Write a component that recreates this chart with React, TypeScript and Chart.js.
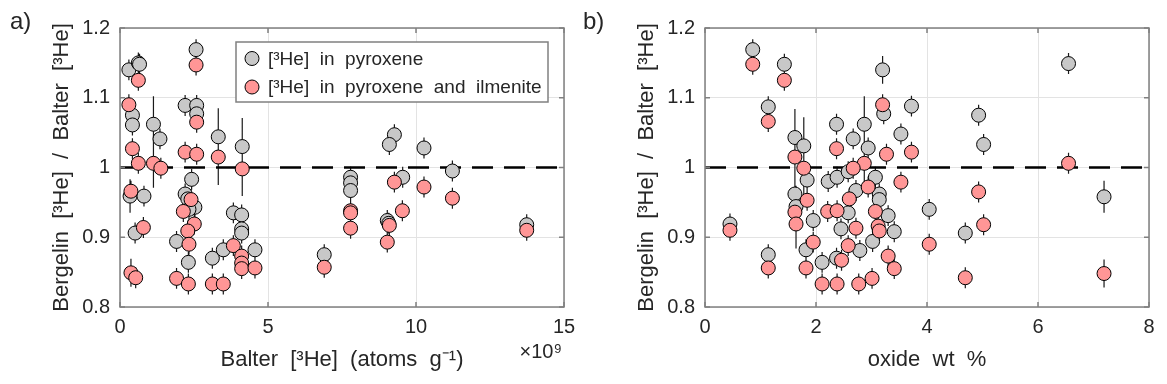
import React, { useEffect, useRef } from "react";
import { Chart, registerables } from "chart.js";

Chart.register(...registerables);

const FONT = '"Liberation Sans", Arial, Helvetica, sans-serif';
const TXT = "#262626";
const GRID = "#e3e3e3";
const FRAME = "#808080";
const GRAY = "#c8c8c8";
const RED = "#ff9696";

// ---------- Panel a: Balter [3He] (x10^9 atoms/g) ----------
const aPyxX = [0.30, 0.62, 0.66, 0.42, 0.42, 1.13, 1.35, 0.34, 0.81, 0.51, 2.57, 2.20, 2.59, 2.59, 2.42, 2.20, 2.29, 2.53, 2.33, 1.91, 2.31, 3.32, 4.13, 3.83, 4.11, 4.11, 4.11, 3.12, 3.49, 4.56, 6.90, 7.79, 7.79, 7.79, 9.27, 9.10, 10.27, 9.55, 11.23, 9.03, 9.08, 13.74];
const aPyxY = [1.140, 1.150, 1.148, 1.075, 1.061, 1.062, 1.041, 0.959, 0.959, 0.906, 1.169, 1.089, 1.089, 1.077, 0.983, 0.962, 0.955, 0.943, 0.940, 0.894, 0.864, 1.044, 1.030, 0.935, 0.932, 0.912, 0.906, 0.870, 0.882, 0.882, 0.875, 0.986, 0.978, 0.967, 1.047, 1.033, 1.028, 0.986, 0.995, 0.924, 0.920, 0.918];
const aPyxErr = [0.015, 0.015, 0.015, 0.015, 0.015, 0.040, 0.015, 0.024, 0.015, 0.015, 0.015, 0.015, 0.015, 0.015, 0.015, 0.015, 0.015, 0.015, 0.015, 0.015, 0.015, 0.041, 0.041, 0.015, 0.015, 0.015, 0.015, 0.015, 0.015, 0.015, 0.015, 0.015, 0.015, 0.015, 0.015, 0.015, 0.015, 0.015, 0.015, 0.015, 0.015, 0.015];

const aIlmX = [0.30, 0.62, 0.42, 0.62, 1.13, 1.38, 0.37, 0.79, 0.37, 0.53, 2.57, 2.59, 2.20, 2.59, 2.40, 2.14, 2.51, 2.29, 2.33, 1.91, 2.31, 3.32, 4.13, 3.83, 4.11, 4.11, 4.11, 4.56, 3.12, 3.49, 6.90, 7.79, 7.79, 7.79, 9.27, 10.27, 11.23, 9.54, 9.10, 9.03, 13.74];
const aIlmY = [1.090, 1.125, 1.027, 1.006, 1.006, 0.999, 0.966, 0.914, 0.849, 0.842, 1.147, 1.065, 1.022, 1.019, 0.954, 0.937, 0.919, 0.909, 0.890, 0.841, 0.833, 1.015, 0.998, 0.888, 0.873, 0.863, 0.855, 0.856, 0.833, 0.833, 0.857, 0.938, 0.935, 0.913, 0.979, 0.972, 0.956, 0.938, 0.917, 0.893, 0.910];
const aIlmErr = [0.015, 0.015, 0.015, 0.015, 0.035, 0.015, 0.015, 0.015, 0.020, 0.015, 0.015, 0.015, 0.015, 0.015, 0.015, 0.015, 0.015, 0.015, 0.015, 0.015, 0.015, 0.040, 0.039, 0.015, 0.015, 0.015, 0.015, 0.015, 0.015, 0.015, 0.015, 0.015, 0.015, 0.015, 0.015, 0.015, 0.015, 0.015, 0.015, 0.015, 0.015];

// ---------- Panel b: oxide wt % ----------
const bPyxX = [0.86, 1.43, 1.14, 0.45, 1.14, 1.62, 1.78, 1.84, 1.62, 1.64, 1.95, 1.82, 2.11, 2.37, 2.22, 2.38, 2.37, 2.67, 2.87, 2.94, 2.58, 2.72, 3.07, 3.14, 3.14, 2.58, 3.30, 2.45, 3.41, 3.02, 2.79, 3.20, 3.22, 3.53, 3.72, 4.04, 4.93, 5.02, 4.69, 6.55, 7.19];
const bPyxY = [1.169, 1.148, 1.087, 0.919, 0.875, 1.043, 1.031, 0.982, 0.962, 0.944, 0.924, 0.882, 0.864, 0.870, 0.980, 0.986, 1.062, 1.041, 1.062, 1.028, 0.994, 0.967, 0.986, 0.962, 0.954, 0.935, 0.931, 0.912, 0.908, 0.894, 0.881, 1.140, 1.077, 1.048, 1.088, 0.940, 1.075, 1.033, 0.906, 1.149, 0.958];
const bPyxErr = [0.015, 0.015, 0.015, 0.015, 0.015, 0.041, 0.041, 0.015, 0.040, 0.030, 0.015, 0.015, 0.015, 0.015, 0.015, 0.015, 0.015, 0.015, 0.040, 0.015, 0.015, 0.015, 0.015, 0.015, 0.015, 0.015, 0.015, 0.015, 0.015, 0.015, 0.015, 0.020, 0.015, 0.015, 0.015, 0.015, 0.015, 0.015, 0.015, 0.015, 0.023];

const bIlmX = [0.86, 1.43, 1.14, 0.45, 1.14, 1.62, 1.78, 1.84, 1.62, 1.64, 1.95, 1.82, 2.11, 2.46, 2.38, 2.77, 3.01, 2.21, 2.38, 2.37, 2.87, 2.67, 2.94, 2.60, 3.07, 2.72, 3.12, 3.14, 2.58, 3.30, 3.41, 3.20, 3.27, 3.53, 3.72, 4.04, 4.93, 5.02, 4.69, 6.55, 7.19];
const bIlmY = [1.148, 1.125, 1.066, 0.910, 0.856, 1.015, 0.999, 0.953, 0.936, 0.919, 0.893, 0.856, 0.833, 0.867, 0.833, 0.833, 0.841, 0.937, 0.938, 1.027, 1.006, 0.999, 0.972, 0.955, 0.937, 0.913, 0.916, 0.909, 0.888, 0.873, 0.855, 1.090, 1.019, 0.979, 1.022, 0.890, 0.965, 0.918, 0.842, 1.006, 0.848];
const bIlmErr = [0.015, 0.015, 0.015, 0.015, 0.015, 0.040, 0.039, 0.015, 0.015, 0.035, 0.015, 0.015, 0.015, 0.015, 0.015, 0.015, 0.015, 0.015, 0.015, 0.015, 0.035, 0.015, 0.015, 0.015, 0.015, 0.015, 0.015, 0.015, 0.015, 0.015, 0.015, 0.015, 0.015, 0.015, 0.015, 0.015, 0.015, 0.015, 0.015, 0.015, 0.020];

// ---------- axes ----------
const yRange = [0.8, 1.2];
const yTicks = [0.8, 0.9, 1.0, 1.1, 1.2];
const yTickLabels = ["0.8", "0.9", "1", "1.1", "1.2"];
const aXRange = [0, 15];
const aXTicks = [0, 5, 10, 15];
const aXTickLabels = ["0", "5", "10", "15"];
const bXRange = [0, 8];
const bXTicks = [0, 2, 4, 6, 8];
const bXTickLabels = ["0", "2", "4", "6", "8"];
const refLineY = [1, 1];

const yTitle = "Bergelin  [³He]  /  Balter  [³He]";
const aXTitle = "Balter  [³He]  (atoms  g⁻¹)";
const bXTitle = "oxide  wt  %";
const aExponent = "×10⁹";
const legendLabels = ["[³He]  in  pyroxene", "[³He]  in  pyroxene  and  ilmenite"];

const toPts = (xs: number[], ys: number[]) => xs.map((x, i) => ({ x, y: ys[i] }));

type PanelSpec = {
  panelLabel: string;
  xRange: number[];
  xTicks: number[];
  xTickLabels: string[];
  xTitle: string;
  gx: number[]; gy: number[]; ge: number[];
  rx: number[]; ry: number[]; re: number[];
  padL: number; padR: number;
  labelX: number;
  exponent?: string;
  legend?: boolean;
};

function makeConfig(p: PanelSpec): any {
  const errPlugin = {
    id: "errbars",
    beforeDatasetsDraw(chart: any) {
      const { ctx, scales } = chart;
      const xs = scales.x, ys = scales.y;
      ctx.save();
      ctx.strokeStyle = "#1a1a1a";
      ctx.lineWidth = 1.2;
      ctx.beginPath();
      const sets = [[p.gx, p.gy, p.ge], [p.rx, p.ry, p.re]];
      for (const [X, Y, E] of sets) {
        for (let i = 0; i < X.length; i++) {
          const px = xs.getPixelForValue(X[i]);
          ctx.moveTo(px, ys.getPixelForValue(Y[i] - E[i]));
          ctx.lineTo(px, ys.getPixelForValue(Y[i] + E[i]));
        }
      }
      ctx.stroke();
      ctx.restore();
    },
  };
  const framePlugin = {
    id: "frame",
    afterDatasetsDraw(chart: any) {
      const { ctx, chartArea: a, scales } = chart;
      ctx.save();
      ctx.strokeStyle = FRAME;
      ctx.lineWidth = 1.5;
      ctx.strokeRect(a.left, a.top, a.right - a.left, a.bottom - a.top);
      ctx.beginPath();
      const tl = 5;
      for (const v of p.xTicks) {
        const px = scales.x.getPixelForValue(v);
        ctx.moveTo(px, a.bottom); ctx.lineTo(px, a.bottom - tl);
        ctx.moveTo(px, a.top); ctx.lineTo(px, a.top + tl);
      }
      for (const v of yTicks) {
        const py = scales.y.getPixelForValue(v);
        ctx.moveTo(a.left, py); ctx.lineTo(a.left + tl, py);
        ctx.moveTo(a.right, py); ctx.lineTo(a.right - tl, py);
      }
      ctx.stroke();
      ctx.restore();
    },
    afterDraw(chart: any) {
      const { ctx, chartArea: a } = chart;
      ctx.save();
      ctx.fillStyle = TXT;
      ctx.font = `24px ${FONT}`;
      ctx.textAlign = "left";
      ctx.textBaseline = "middle";
      ctx.fillText(p.panelLabel, p.labelX, 22);
      if (p.exponent) {
        ctx.font = `20px ${FONT}`;
        ctx.textAlign = "right";
        ctx.fillText(p.exponent, a.right - 2, 352);
      }
      if (p.legend) {
        const bx = 236, by = 42, bw = 312, bh = 60;
        ctx.fillStyle = "#ffffff";
        ctx.fillRect(bx, by, bw, bh);
        ctx.strokeStyle = FRAME;
        ctx.lineWidth = 1.5;
        ctx.strokeRect(bx, by, bw, bh);
        const rows = [
          { c: GRAY, y: 58.5, t: legendLabels[0] },
          { c: RED, y: 87, t: legendLabels[1] },
        ];
        for (const r of rows) {
          ctx.beginPath();
          ctx.arc(252, r.y, 7, 0, Math.PI * 2);
          ctx.fillStyle = r.c;
          ctx.fill();
          ctx.strokeStyle = "#000";
          ctx.lineWidth = 1;
          ctx.stroke();
          ctx.fillStyle = TXT;
          ctx.font = `19px ${FONT}`;
          ctx.textAlign = "left";
          ctx.textBaseline = "middle";
          ctx.fillText(r.t, 268, r.y + 1);
        }
      }
      ctx.restore();
    },
  };

  return {
    type: "scatter",
    data: {
      datasets: [
        {
          data: [{ x: p.xRange[0], y: refLineY[0] }, { x: p.xRange[1], y: refLineY[1] }],
          showLine: true,
          borderColor: "#000",
          borderWidth: 2.6,
          borderDash: [21, 11],
          pointRadius: 0,
          order: 3,
        },
        {
          data: toPts(p.gx, p.gy),
          pointRadius: 7,
          pointBackgroundColor: GRAY,
          pointBorderColor: "#000",
          pointBorderWidth: 1,
          order: 2,
        },
        {
          data: toPts(p.rx, p.ry),
          pointRadius: 7,
          pointBackgroundColor: RED,
          pointBorderColor: "#000",
          pointBorderWidth: 1,
          order: 1,
        },
      ],
    },
    options: {
      responsive: false,
      animation: false,
      devicePixelRatio: 1,
      events: [],
      layout: { padding: { left: p.padL, right: p.padR, top: 28, bottom: 10.8 } },
      plugins: { legend: { display: false }, tooltip: { enabled: false } },
      scales: {
        x: {
          type: "linear",
          min: p.xRange[0],
          max: p.xRange[1],
          afterBuildTicks: (s: any) => { s.ticks = p.xTicks.map((v) => ({ value: v })); },
          afterFit: (s: any) => { s.height = 66.2; },
          grid: { color: GRID, drawTicks: false, lineWidth: 1 },
          border: { display: false },
          ticks: {
            padding: 8,
            autoSkip: false,
            maxRotation: 0,
            color: TXT,
            font: { family: FONT, size: 20 },
            callback: (_v: any, i: number) => p.xTickLabels[i],
          },
          title: { display: true, text: p.xTitle, color: TXT, font: { family: FONT, size: 22 }, padding: 0 },
        },
        y: {
          type: "linear",
          position: "left",
          min: yRange[0],
          max: yRange[1],
          afterBuildTicks: (s: any) => { s.ticks = yTicks.map((v) => ({ value: v })); },
          afterFit: (s: any) => { s.width = 71.2; },
          grid: { color: GRID, drawTicks: false, lineWidth: 1 },
          border: { display: false },
          ticks: {
            padding: 10,
            autoSkip: false,
            color: TXT,
            font: { family: FONT, size: 20 },
            callback: (_v: any, i: number) => yTickLabels[i],
          },
          title: { display: true, text: yTitle, color: TXT, font: { family: FONT, size: 22 }, padding: 0 },
        },
      },
    },
    plugins: [errPlugin, framePlugin],
  };
}

export default function App() {
  const refA = useRef<HTMLCanvasElement>(null);
  const refB = useRef<HTMLCanvasElement>(null);

  useEffect(() => {
    const chartA = new Chart(refA.current as HTMLCanvasElement, makeConfig({
      panelLabel: "a)",
      xRange: aXRange, xTicks: aXTicks, xTickLabels: aXTickLabels, xTitle: aXTitle,
      gx: aPyxX, gy: aPyxY, ge: aPyxErr,
      rx: aIlmX, ry: aIlmY, re: aIlmErr,
      padL: 48.8, padR: 22,
      labelX: 10,
      exponent: aExponent,
      legend: true,
    }));
    const chartB = new Chart(refB.current as HTMLCanvasElement, makeConfig({
      panelLabel: "b)",
      xRange: bXRange, xTicks: bXTicks, xTickLabels: bXTickLabels, xTitle: bXTitle,
      gx: bPyxX, gy: bPyxY, ge: bPyxErr,
      rx: bIlmX, ry: bIlmY, re: bIlmErr,
      padL: 55.8, padR: 18,
      labelX: 5,
    }));
    return () => { chartA.destroy(); chartB.destroy(); };
  }, []);

  return (
    <div style={{ position: "fixed", left: 0, top: 0, width: 1167, height: 384, background: "#fff" }}>
      <canvas ref={refA} width={586} height={384} style={{ position: "absolute", left: 0, top: 0, width: 586, height: 384 }} />
      <canvas ref={refB} width={589} height={384} style={{ position: "absolute", left: 578, top: 0, width: 589, height: 384 }} />
    </div>
  );
}
